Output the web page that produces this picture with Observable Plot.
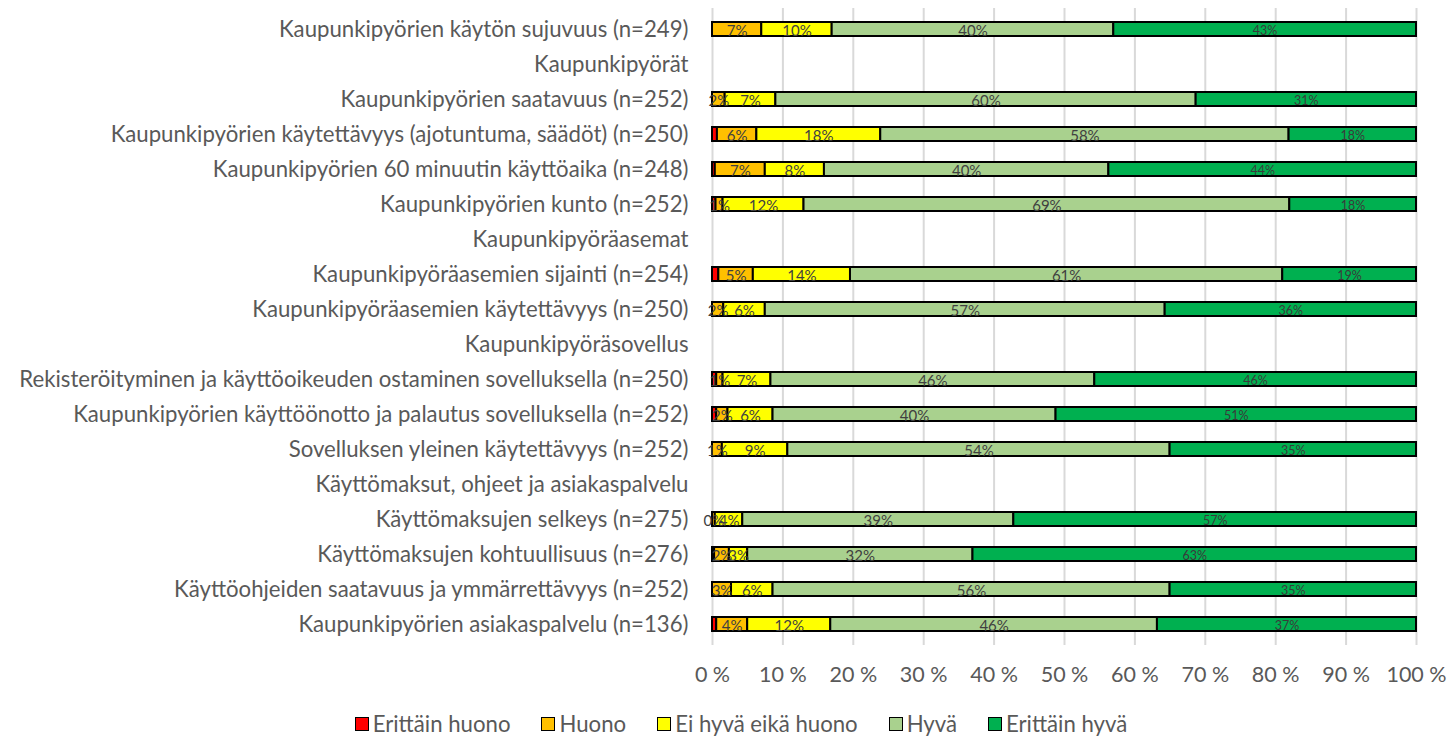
<!DOCTYPE html>
<html>
<head>
<meta charset="utf-8">
<script src="https://cdn.jsdelivr.net/npm/d3@7"></script>
<script src="https://cdn.jsdelivr.net/npm/@observablehq/plot@0.6"></script>
<style>
  html, body { margin: 0; padding: 0; background: #fff; overflow: hidden; }
  #chart svg { display: block; }
  #legend { display: flex; justify-content: center; align-items: flex-start; gap: 31px;
    font-family: Lato, sans-serif; font-size: 22.2px; line-height: 27px; color: #595959; height: 43px;
    padding-left: 32px; padding-top: 15px; box-sizing: border-box; }
  #legend .item { display: flex; align-items: center; }
  #legend .box { width: 12px; height: 12px; border: 1.5px solid #000; margin-right: 4px; }
</style>
</head>
<body>
<div id="chart"></div>
<div id="legend"></div>
<script>
const rows = [
  "Kaupunkipyörien käytön sujuvuus (n=249)",
  "Kaupunkipyörät",
  "Kaupunkipyörien saatavuus (n=252)",
  "Kaupunkipyörien käytettävyys (ajotuntuma, säädöt) (n=250)",
  "Kaupunkipyörien 60 minuutin käyttöaika (n=248)",
  "Kaupunkipyörien kunto (n=252)",
  "Kaupunkipyöräasemat",
  "Kaupunkipyöräasemien sijainti (n=254)",
  "Kaupunkipyöräasemien käytettävyys (n=250)",
  "Kaupunkipyöräsovellus",
  "Rekisteröityminen ja käyttöoikeuden ostaminen sovelluksella (n=250)",
  "Kaupunkipyörien käyttöönotto ja palautus sovelluksella (n=252)",
  "Sovelluksen yleinen käytettävyys (n=252)",
  "Käyttömaksut, ohjeet ja asiakaspalvelu",
  "Käyttömaksujen selkeys (n=275)",
  "Käyttömaksujen kohtuullisuus (n=276)",
  "Käyttöohjeiden saatavuus ja ymmärrettävyys (n=252)",
  "Kaupunkipyörien asiakaspalvelu (n=136)"
];
const series = ["Erittäin huono", "Huono", "Ei hyvä eikä huono", "Hyvä", "Erittäin hyvä"];
const colors = ["#ff0000", "#ffc000", "#ffff00", "#a9d18e", "#00b050"];

const erittainHuono = [0,   null, 0,   0.7, 0.4, 0.5,  null, 0.9,  0,    null, 0.6, 0.6, 0,   null, 0,    0.3, 0,    0.6];
const huono         = [7,   null, 1.8, 5.6, 7.1, 1,    null, 4.9,  1.6,  null, 0.9, 1.6, 1.4, null, 0.4,  2.1, 2.7,  4.4];
const eiHyvaEikaHuono=[10,  null, 7.2, 17.6,8.4, 11.5, null, 13.8, 5.9,  null, 6.8, 6.4, 9.3, null, 3.9,  2.6, 5.9,  11.8];
const hyva          = [40,  null, 59.7,58,  40.4,69,   null, 61.4, 56.8, null, 46,  40.2,54.3,null, 38.5, 32,  56.4, 46.4];
const erittainHyva  = [43,  null, 31.3,18.1,43.7,18,   null, 19,   35.7, null, 45.7,51.2,35,  null, 57.2, 63,  35,   36.8];
const xTicks = [0, 10, 20, 30, 40, 50, 60, 70, 80, 90, 100];

const seriesValues = [erittainHuono, huono, eiHyvaEikaHuono, hyva, erittainHyva];
const data = [];
rows.forEach((r, i) => {
  seriesValues.forEach((vals, s) => {
    const v = vals[i];
    if (v != null && v > 0) data.push({row: r, series: series[s], s, v});
  });
});

const label = d => d.s === 0 ? "" : Math.round(d.v) + "%";

const chart = Plot.plot({
  width: 1450,
  height: 695,
  marginLeft: 712,
  marginRight: 34,
  marginTop: 8,
  marginBottom: 50,
  style: {fontFamily: "Lato, sans-serif", fontSize: "22.2px", color: "#595959", background: "#fff"},
  x: {domain: [0, 100]},
  y: {domain: rows, paddingInner: 0.6, paddingOuter: 0.32, align: 0.5},
  color: {domain: series, range: colors},
  marks: [
    Plot.gridX(xTicks, {stroke: "#d9d9d9", strokeOpacity: 1, strokeWidth: 2}),
    Plot.axisX({ticks: xTicks, tickFormat: d => d + " %", tickSize: 0, tickPadding: 21, fontSize: 21.5, label: null}),
    Plot.axisY({tickSize: 0, tickPadding: 24, fontSize: 22.2, label: null}),
    Plot.barX(data, Plot.stackX({x: "v", y: "row", fill: "series", stroke: "#000", strokeWidth: 2})),
    Plot.text(data, Plot.stackX({x: "v", y: "row", text: d => d.s === 4 ? "" : label(d), fill: "#404040", fontSize: 15, dy: 1.5})),
    Plot.text(data, Plot.stackX({x: "v", y: "row", text: d => d.s === 4 ? label(d) : "", fill: "#3a3a3a", fontSize: 12.5, dy: 1.5}))
  ]
});
document.getElementById("chart").appendChild(chart);

const legend = document.getElementById("legend");
series.forEach((name, i) => {
  const item = document.createElement("div");
  item.className = "item";
  const box = document.createElement("span");
  box.className = "box";
  box.style.background = colors[i];
  const txt = document.createElement("span");
  txt.textContent = name;
  item.appendChild(box);
  item.appendChild(txt);
  legend.appendChild(item);
});
</script>
</body>
</html>
